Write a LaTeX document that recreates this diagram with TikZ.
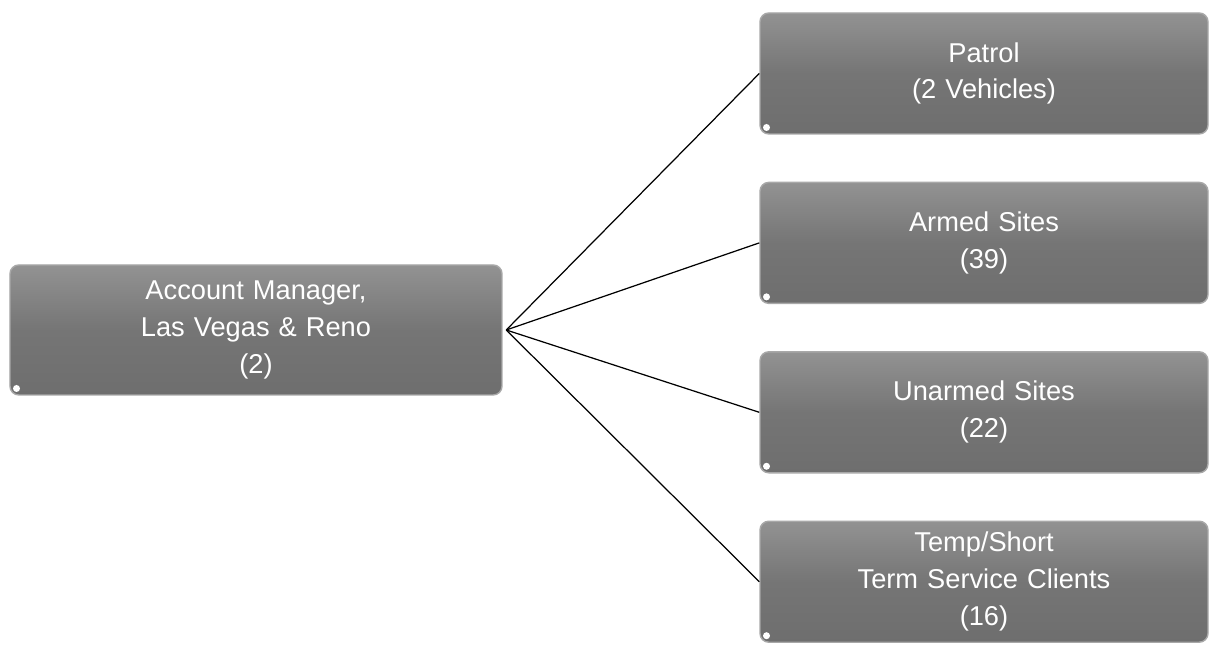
\documentclass[tikz,border=0pt]{standalone}
\usepackage{fontspec}
\setmainfont{Liberation Sans}
\usepackage{tikz}
\usetikzlibrary{positioning}
\definecolor{boxgray}{HTML}{6E6E6E}
\definecolor{rimgray}{HTML}{A8A8A8}
\tikzset{
  unit/.style={rectangle, rounded corners=5pt, draw=rimgray, line width=0.8pt, top color=boxgray!75, bottom color=boxgray, middle color=boxgray!95,
    text=white, align=center, font=\fontsize{15.5}{21}\selectfont, inner sep=0pt,
    path picture={\fill[white] ([shift={(0.13,0.13)}]path picture bounding box.south west) circle (0.07);}},
  link/.style={line width=0.7pt, black},
}
\begin{document}
\begin{tikzpicture}[node distance=0.94cm]
\useasboundingbox (0,0) rectangle (24.32,13);
\node[unit, minimum width=9.84cm, minimum height=2.6cm, text width=9cm] (mgr) at (5.12,6.4) {Account Manager,\\Las Vegas \& Reno\\(2)};
\node[unit, minimum width=8.96cm, minimum height=2.42cm, text width=8.4cm] (patrol) at (19.68,11.53) {Patrol\\(2 Vehicles)};
\node[unit, minimum width=8.96cm, minimum height=2.42cm, text width=8.4cm, below=of patrol] (armed) {Armed Sites\\(39)};
\node[unit, minimum width=8.96cm, minimum height=2.42cm, text width=8.4cm, below=of armed] (unarmed) {Unarmed Sites\\(22)};
\node[unit, minimum width=8.96cm, minimum height=2.42cm, text width=8.4cm, below=of unarmed] (temp) {Temp/Short\\Term Service Clients\\(16)};
\foreach \n in {patrol, armed, unarmed, temp}
  \draw[link] ([xshift=2pt]mgr.east) -- (\n.west);
\end{tikzpicture}
\end{document}
